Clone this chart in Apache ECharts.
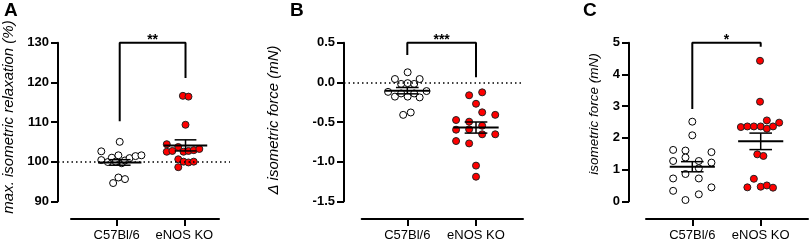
<!DOCTYPE html>
<html>
<head>
<meta charset="utf-8">
<script src="https://cdn.jsdelivr.net/npm/echarts@6/dist/echarts.min.js"></script>
<style>
  html, body { margin: 0; padding: 0; background: #fff; }
  #chart { width: 809px; height: 242px; }
</style>
</head>
<body>
<div id="chart"></div>
<script>
const categories = ['C57Bl/6', 'eNOS KO'];

// A - max. isometric relaxation (%)
const relaxWtJit = [0.00, -0.28, -0.28, -0.18, -0.12, -0.06, -0.02, 0.03, 0.08, 0.15, 0.24, 0.33, -0.10, -0.02, 0.08];
const relaxWtVal = [105.0, 102.6, 100.4, 99.9, 101.0, 100.0, 101.6, 99.6, 100.3, 100.9, 101.4, 101.6, 94.6, 96.0, 95.6];
const relaxKoJit = [-0.04, 0.045, 0, -0.285, -0.285, -0.20, -0.11, -0.03, 0.045, 0.125, 0.21, -0.11, -0.03, 0.045, 0.125, -0.11];
const relaxKoVal = [116.6, 116.4, 109.3, 104.4, 102.5, 102.7, 103.7, 102.5, 102.7, 102.9, 103.2, 100.6, 100.0, 99.8, 100.0, 98.6];
const relaxMean = [99.8, 104.1];
const relaxSem = [0.7, 1.4];
const relaxBracket = [110.2, 121.1];

// B - delta isometric force (mN)
const dfWtJit = [0.005, -0.18, 0.18, -0.09, 0.005, 0.10, -0.28, 0.28, -0.18, -0.09, 0.005, 0.10, 0.18, -0.06, 0.05];
const dfWtVal = [0.127, 0.042, 0.042, -0.02, -0.01, -0.02, -0.12, -0.11, -0.18, -0.14, -0.18, -0.14, -0.19, -0.41, -0.38];
const dfKoJit = [-0.10, 0.09, 0, 0.09, 0.28, -0.29, -0.10, 0.09, -0.29, -0.10, 0.09, 0.28, -0.29, -0.10, 0, 0];
const dfKoVal = [-0.163, -0.126, -0.27, -0.378, -0.41, -0.475, -0.496, -0.547, -0.597, -0.593, -0.655, -0.655, -0.74, -0.77, -1.05, -1.19];
const dfMean = [-0.105, -0.57];
const dfSem = [0.04, 0.07];
const dfBracket = [0.345, 0.064];

// C - isometric force (mN)
const fWtJit = [0, 0, -0.28, -0.10, 0.28, -0.10, -0.28, 0.095, 0.28, 0.095, -0.10, 0.095, -0.28, 0.28, -0.28, 0.095, -0.10];
const fWtVal = [2.51, 2.08, 1.62, 1.60, 1.55, 1.38, 1.27, 1.27, 1.22, 1.04, 0.86, 0.72, 0.72, 0.44, 0.33, 0.22, 0.04];
const fKoJit = [-0.01, -0.01, -0.29, -0.195, -0.10, 0, 0.09, 0.09, 0.18, 0.27, -0.05, 0.04, -0.10, -0.195, 0, 0.09, 0.18];
const fKoVal = [4.43, 3.14, 2.34, 2.36, 2.36, 2.36, 2.55, 2.29, 2.36, 2.48, 1.48, 1.43, 0.71, 0.44, 0.46, 0.50, 0.43];
const fMean = [1.09, 1.89];
const fSem = [0.16, 0.26];
const fBracket = [2.91, 4.87];

const FONT = "'Liberation Sans', Arial, sans-serif";
const TOP = 42.7, BOTTOM = 201.3, XLINE_Y = 219;

const panels = [
  { letter: 'A', letterX: 4, title: 'max. isometric relaxation (%)', nameGap: 42, nameSize: 15, namePad: [0, 0, 0, 10],
    axisX: 53.3, plotEnd: 230, lineStart: 71, lineEnd: 219, c1: 116.7, c2: 184.3,
    min: 90, max: 130, step: 10, digits: 0, ref: 100,
    wt: [relaxWtJit, relaxWtVal], ko: [relaxKoJit, relaxKoVal],
    mean: relaxMean, sem: relaxSem, bracket: relaxBracket, stars: '**' },
  { letter: 'B', letterX: 290, title: '\u0394 isometric force (mN)', nameGap: 63, nameSize: 15, namePad: [0, 0, 0, 4],
    axisX: 344, plotEnd: 523, lineStart: 361.7, lineEnd: 523, c1: 407.3, c2: 476,
    min: -1.5, max: 0.5, step: 0.5, digits: 1, ref: 0,
    wt: [dfWtJit, dfWtVal], ko: [dfKoJit, dfKoVal],
    mean: dfMean, sem: dfSem, bracket: dfBracket, stars: '***' },
  { letter: 'C', letterX: 583, title: 'isometric force (mN)', nameGap: 28, nameSize: 13.5, namePad: [0, 0, 0, 16],
    axisX: 629, plotEnd: 808, lineStart: 646, lineEnd: 808, c1: 692.3, c2: 760.7,
    min: 0, max: 5, step: 1, digits: 0, ref: null,
    wt: [fWtJit, fWtVal], ko: [fKoJit, fKoVal],
    mean: fMean, sem: fSem, bracket: fBracket, stars: '*' }
];

const blackLine = { color: '#000', width: 2 };
const grid = [], xAxis = [], yAxis = [], series = [], graphic = [];

function meanSem(params, api) {
  const c = api.value(0), m = api.value(1), s = api.value(2);
  const l = api.coord([c - 0.33, m]), r = api.coord([c + 0.33, m]);
  const t = api.coord([c, m + s]), b = api.coord([c, m - s]);
  const tl = api.coord([c - 0.165, m + s]), tr = api.coord([c + 0.165, m + s]);
  const bl = api.coord([c - 0.165, m - s]), br = api.coord([c + 0.165, m - s]);
  const thin = { stroke: '#000', lineWidth: 1.5 };
  return {
    type: 'group',
    children: [
      { type: 'line', shape: { x1: t[0], y1: t[1], x2: b[0], y2: b[1] }, style: thin },
      { type: 'line', shape: { x1: tl[0], y1: tl[1], x2: tr[0], y2: tr[1] }, style: thin },
      { type: 'line', shape: { x1: bl[0], y1: bl[1], x2: br[0], y2: br[1] }, style: thin },
      { type: 'line', shape: { x1: l[0], y1: l[1], x2: r[0], y2: r[1] }, style: { stroke: '#000', lineWidth: 2 } }
    ]
  };
}

panels.forEach((p, i) => {
  const unit = p.c2 - p.c1;
  const gp = 2 * i, gx = 2 * i + 1;

  grid.push({ left: p.axisX, top: TOP, width: p.plotEnd - p.axisX, height: BOTTOM - TOP });
  grid.push({ left: p.lineStart, top: XLINE_Y - 1, width: p.lineEnd - p.lineStart, height: 1 });

  xAxis.push({
    gridIndex: gp, type: 'value', show: false,
    min: 1 - (p.c1 - p.axisX) / unit, max: 2 + (p.plotEnd - p.c2) / unit
  });
  xAxis.push({
    gridIndex: gx, type: 'value',
    min: 1 - (p.c1 - p.lineStart) / unit, max: 2 + (p.lineEnd - p.c2) / unit,
    axisLine: { onZero: false, lineStyle: blackLine },
    axisTick: { customValues: [1, 2], length: 7, lineStyle: blackLine },
    axisLabel: { customValues: [1, 2], formatter: v => categories[Math.round(v) - 1],
      color: '#000', fontSize: 13, fontFamily: FONT, margin: 10 },
    splitLine: { show: false }
  });

  yAxis.push({
    gridIndex: gp, type: 'value', min: p.min, max: p.max, interval: p.step,
    axisLine: { show: true, onZero: false, lineStyle: blackLine },
    axisTick: { show: true, length: 7, lineStyle: blackLine },
    axisLabel: { color: '#000', fontSize: 13, fontWeight: 'bold', fontFamily: FONT, margin: 9,
      formatter: v => v.toFixed(p.digits) },
    splitLine: { show: false },
    name: p.title, nameLocation: 'middle', nameRotate: 90, nameGap: p.nameGap,
    nameTextStyle: { fontStyle: 'italic', fontSize: p.nameSize, color: '#000', fontFamily: FONT, padding: p.namePad }
  });
  yAxis.push({ gridIndex: gx, type: 'value', show: false });

  // significance bracket (+ reference dotted line)
  const bracket = {
    type: 'line', xAxisIndex: gp, yAxisIndex: gp, z: 2, clip: false, silent: true,
    symbol: 'none', lineStyle: { color: '#000', width: 2 },
    data: [[1, p.bracket[0]], [1, p.max], [2, p.max], [2, p.bracket[1]]]
  };
  if (p.ref !== null) {
    bracket.markLine = {
      silent: true, symbol: 'none', label: { show: false },
      lineStyle: { color: '#000', width: 1.5, type: [1.5, 3] },
      data: [{ yAxis: p.ref }]
    };
  }
  series.push(bracket);

  series.push({
    type: 'custom', xAxisIndex: gp, yAxisIndex: gp, z: 2, silent: true,
    data: [[1.5, p.max]],
    renderItem: (params, api) => {
      const pt = api.coord([api.value(0), api.value(1)]);
      return { type: 'text', x: pt[0], y: pt[1] - 3,
        style: { text: p.stars, fill: '#000', font: 'bold 14px ' + FONT, align: 'center', verticalAlign: 'middle' } };
    }
  });

  series.push({
    type: 'scatter', xAxisIndex: gp, yAxisIndex: gp, z: 3, clip: false, silent: true,
    symbol: 'circle', symbolSize: 7,
    itemStyle: { color: '#fff', borderColor: '#000', borderWidth: 1, opacity: 1 },
    data: p.wt[0].map((j, k) => [1 + j, p.wt[1][k]])
  });
  series.push({
    type: 'scatter', xAxisIndex: gp, yAxisIndex: gp, z: 3, clip: false, silent: true,
    symbol: 'circle', symbolSize: 7,
    itemStyle: { color: '#ff0000', borderColor: '#222', borderWidth: 1, opacity: 1 },
    data: p.ko[0].map((j, k) => [2 + j, p.ko[1][k]])
  });

  series.push({
    type: 'custom', xAxisIndex: gp, yAxisIndex: gp, z: 5, silent: true,
    encode: { x: 0, y: 1 },
    data: p.mean.map((m, k) => [k + 1, m, p.sem[k]]),
    renderItem: meanSem
  });

  graphic.push({ type: 'text', left: p.letterX, top: 1,
    style: { text: p.letter, font: 'bold 19px ' + FONT, fill: '#000' } });
});

const chart = echarts.init(document.getElementById('chart'), null, { renderer: 'canvas' });
chart.setOption({
  animation: false,
  backgroundColor: '#fff',
  grid, xAxis, yAxis, series, graphic
});
</script>
</body>
</html>
